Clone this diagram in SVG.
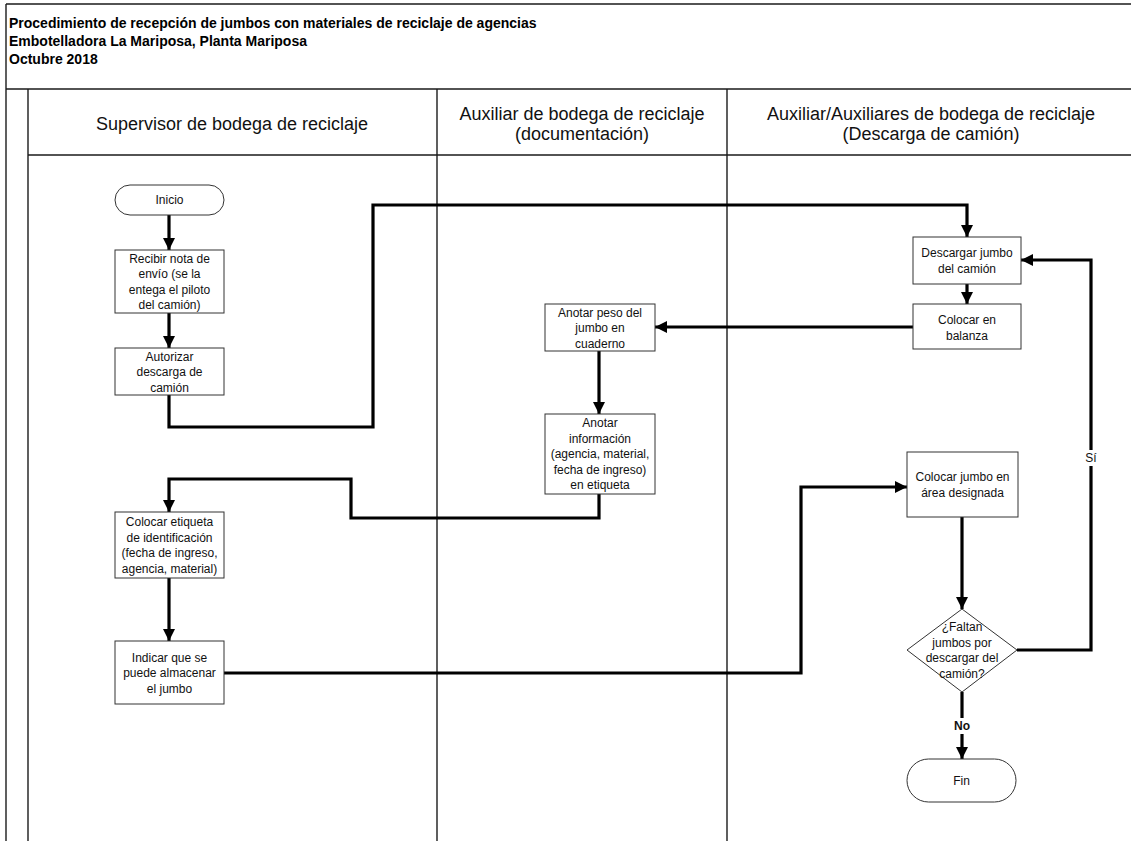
<svg xmlns="http://www.w3.org/2000/svg" width="1131" height="841" viewBox="0 0 1131 841">
  <defs>
    <style>
      .frame { fill: none; stroke: #1a1a1a; stroke-width: 1.4; }
      .box { fill: #ffffff; stroke: #333333; stroke-width: 1; }
      .lbl { font-family: "Liberation Sans", Arial, sans-serif; font-size: 12px; fill: #111111; text-anchor: middle; }
      .hdr { font-family: "Liberation Sans", Arial, sans-serif; font-size: 18px; fill: #111111; text-anchor: middle; }
      .ttl { font-family: "Liberation Sans", Arial, sans-serif; font-size: 14px; font-weight: bold; fill: #000000; }
      .flow { fill: none; stroke: #000000; stroke-width: 3.2; stroke-linejoin: miter; marker-end: url(#arrow); }
      .tag { fill: #ffffff; stroke: none; }
    </style>
    <marker id="arrow" markerUnits="userSpaceOnUse" markerWidth="13" markerHeight="12" refX="12" refY="6" orient="auto">
      <path d="M0,0 L12,6 L0,12 z" fill="#000000"/>
    </marker>
  </defs>

  <rect width="1131" height="841" fill="#ffffff"/>

  <!-- swimlane frame -->
  <g id="frame">
    <line class="frame" x1="6" y1="4" x2="1131" y2="4"/>
    <line class="frame" x1="6" y1="4" x2="6" y2="841"/>
    <line class="frame" x1="6" y1="89" x2="1131" y2="89"/>
    <line class="frame" x1="28" y1="89" x2="28" y2="841"/>
    <line class="frame" x1="28" y1="155" x2="1131" y2="155"/>
    <line class="frame" x1="437" y1="89" x2="437" y2="841"/>
    <line class="frame" x1="727" y1="89" x2="727" y2="841"/>
  </g>

  <!-- title block -->
  <g id="title">
    <text class="ttl" x="9" y="28">Procedimiento de recepción de jumbos con materiales de reciclaje de agencias</text>
    <text class="ttl" x="9" y="46">Embotelladora La Mariposa, Planta Mariposa</text>
    <text class="ttl" x="9" y="64">Octubre 2018</text>
  </g>

  <!-- lane headers -->
  <g id="lane-headers">
    <text class="hdr" x="232" y="130">Supervisor de bodega de reciclaje</text>
    <text class="hdr" x="582" y="120">Auxiliar de bodega de reciclaje</text>
    <text class="hdr" x="582" y="140">(documentación)</text>
    <text class="hdr" x="931" y="120">Auxiliar/Auxiliares de bodega de reciclaje</text>
    <text class="hdr" x="931" y="140">(Descarga de camión)</text>
  </g>

  <!-- connectors -->
  <g id="connectors">
    <polyline class="flow" points="169,215 169,250"/>
    <polyline class="flow" points="169,313 169,348"/>
    <polyline class="flow" points="169,395 169,427 373,427 373,205 967,205 967,237"/>
    <polyline class="flow" points="967,284 967,304"/>
    <polyline class="flow" points="913,327 655,327"/>
    <polyline class="flow" points="599,351 599,414"/>
    <polyline class="flow" points="599,494 599,518 351,518 351,479 169,479 169,512"/>
    <polyline class="flow" points="169,578 169,641"/>
    <polyline class="flow" points="224,673 801,673 801,487 907,487"/>
    <polyline class="flow" points="962,517 962,609"/>
    <polyline class="flow" points="1017,650 1091,650 1091,260 1021,260"/>
    <polyline class="flow" points="962,692 962,759"/>
    <rect class="tag" x="1083" y="450" width="16" height="16"/>
    <text class="lbl" x="1091" y="462">Sí</text>
    <rect class="tag" x="951" y="718" width="22" height="16"/>
    <text class="lbl" x="962" y="730" font-weight="bold">No</text>
  </g>

  <!-- supervisor lane -->
  <g id="inicio">
    <rect class="box" x="115" y="185" width="109" height="30" rx="15" ry="15"/>
    <text class="lbl" x="169.5" y="204.3">Inicio</text>
  </g>
  <g id="recibir-nota">
    <rect class="box" x="115" y="250" width="109" height="63"/>
    <text class="lbl" x="169.5" y="262.5">Recibir nota de</text>
    <text class="lbl" x="169.5" y="278">envío (se la</text>
    <text class="lbl" x="169.5" y="293.5">entega el piloto</text>
    <text class="lbl" x="169.5" y="309">del camión)</text>
  </g>
  <g id="autorizar">
    <rect class="box" x="115" y="348" width="109" height="47"/>
    <text class="lbl" x="169.5" y="360.5">Autorizar</text>
    <text class="lbl" x="169.5" y="376">descarga de</text>
    <text class="lbl" x="169.5" y="391.5">camión</text>
  </g>
  <g id="colocar-etiqueta">
    <rect class="box" x="115" y="512" width="109" height="66"/>
    <text class="lbl" x="169.5" y="526">Colocar etiqueta</text>
    <text class="lbl" x="169.5" y="541.5">de identificación</text>
    <text class="lbl" x="169.5" y="557">(fecha de ingreso,</text>
    <text class="lbl" x="169.5" y="572.5">agencia, material)</text>
  </g>
  <g id="indicar">
    <rect class="box" x="115" y="641" width="109" height="63"/>
    <text class="lbl" x="169.5" y="661.5">Indicar que se</text>
    <text class="lbl" x="169.5" y="677">puede almacenar</text>
    <text class="lbl" x="169.5" y="692.5">el jumbo</text>
  </g>

  <!-- documentation lane -->
  <g id="anotar-peso">
    <rect class="box" x="545" y="304" width="110" height="47"/>
    <text class="lbl" x="600" y="316.5">Anotar peso del</text>
    <text class="lbl" x="600" y="332">jumbo en</text>
    <text class="lbl" x="600" y="347.5">cuaderno</text>
  </g>
  <g id="anotar-info">
    <rect class="box" x="545" y="414" width="110" height="80"/>
    <text class="lbl" x="600" y="427">Anotar</text>
    <text class="lbl" x="600" y="442.5">información</text>
    <text class="lbl" x="600" y="458">(agencia, material,</text>
    <text class="lbl" x="600" y="473.5">fecha de ingreso)</text>
    <text class="lbl" x="600" y="489">en etiqueta</text>
  </g>

  <!-- unloading lane -->
  <g id="descargar">
    <rect class="box" x="913" y="237" width="108" height="47"/>
    <text class="lbl" x="967" y="257">Descargar jumbo</text>
    <text class="lbl" x="967" y="273">del camión</text>
  </g>
  <g id="balanza">
    <rect class="box" x="913" y="304" width="108" height="45"/>
    <text class="lbl" x="967" y="324">Colocar en</text>
    <text class="lbl" x="967" y="340">balanza</text>
  </g>
  <g id="colocar-jumbo">
    <rect class="box" x="907" y="452" width="111" height="65"/>
    <text class="lbl" x="962.5" y="481">Colocar jumbo en</text>
    <text class="lbl" x="962.5" y="497">área designada</text>
  </g>
  <g id="decision">
    <polygon class="box" points="962,609 1017,650 962,692 907,650"/>
    <text class="lbl" x="962" y="631">¿Faltan</text>
    <text class="lbl" x="962" y="646.5">jumbos por</text>
    <text class="lbl" x="962" y="662">descargar del</text>
    <text class="lbl" x="962" y="677.5">camión?</text>
  </g>
  <g id="fin">
    <rect class="box" x="907" y="759" width="109" height="43" rx="21.5" ry="21.5"/>
    <text class="lbl" x="961.5" y="785">Fin</text>
  </g>
</svg>
